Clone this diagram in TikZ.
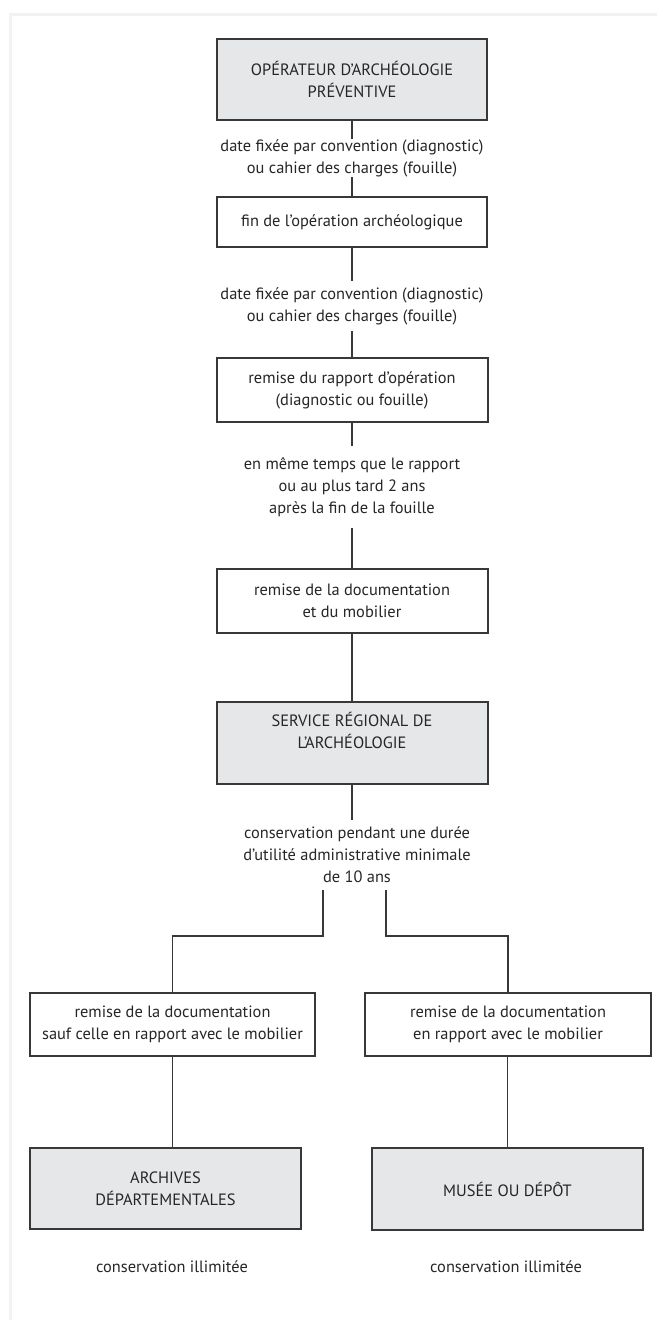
\documentclass[tikz,border=0pt]{standalone}
\usepackage{fontspec}
\setmainfont{PT Sans}
\usepackage{tikz}
\definecolor{fondgris}{HTML}{E6E7E8}
\definecolor{trait}{HTML}{383838}
\definecolor{encre}{HTML}{262626}
\tikzset{
etape/.style={shape=rectangle, draw=trait, line width=1pt, fill=white,
    align=center, inner sep=0pt, text=encre},
acteur/.style={etape, fill=fondgris},
delai/.style={align=center, inner sep=0pt, text=encre},
lien/.style={draw=trait, line width=0.9pt}}

\begin{document}
\begin{tikzpicture}[x=0.5pt, y=-0.5pt, font=\fontsize{8.2}{11}\selectfont]

                \useasboundingbox (0,0) rectangle (657,1320);
                \draw[black!5, line width=1.5pt] (10,1320) -- (10,15) -- (657,15);

                \node[acteur, minimum width=135.4pt, minimum height=40.5pt] (A) at (352,79.5) {OPÉRATEUR D’ARCHÉOLOGIE\\PRÉVENTIVE};
                \node[delai] (t1) at (352,158) {date fixée par convention (diagnostic)\\ou cahier des charges (fouille)};
                \node[etape, minimum width=135.4pt, minimum height=25pt] (B) at (352,222) {fin de l’opération archéologique};
                \node[delai, inner ysep=3pt] (t2) at (352,306) {date fixée par convention (diagnostic)\\ou cahier des charges (fouille)};
                \node[etape, minimum width=135.5pt, minimum height=32pt] (C) at (352,390) {remise du rapport d’opération\\(diagnostic ou fouille)};
                \node[delai, inner ysep=5.5pt] (t3) at (352,487) {en même temps que le rapport\\ou au plus tard 2 ans\\après la fin de la fouille};
                \node[etape, minimum width=135.5pt, minimum height=32pt] (D) at (352,601) {remise de la documentation\\et du mobilier};
                \node[acteur, minimum width=135.5pt, minimum height=41pt, text depth=13pt] (E) at (352,743) {SERVICE RÉGIONAL DE\\L’ARCHÉOLOGIE};
                \node[delai, inner ysep=3.5pt] (t4) at (357,855) {conservation pendant une durée\\d’utilité administrative minimale\\de 10 ans};
                \coordinate (kl) at (322.6,936);
                \coordinate (kr) at (386.3,936);
                \node[etape, minimum width=142.3pt, minimum height=31.4pt] (F) at (172.5,1024.7) {remise de la documentation\\sauf celle en rapport avec le mobilier};
                \node[etape, minimum width=142.6pt, minimum height=31.4pt] (G) at (508,1024.7) {remise de la documentation\\en rapport avec le mobilier};
                \node[acteur, minimum width=135.3pt, minimum height=40.8pt] (H) at (165.5,1188.5) {ARCHIVES\\DÉPARTEMENTALES};
                \node[acteur, minimum width=135.5pt, minimum height=40.8pt] (I) at (507.5,1189) {MUSÉE OU DÉPÔT};
                \node[delai] (t5) at (172,1267) {conservation illimitée};
                \node[delai] (t6) at (506,1267) {conservation illimitée};

                \draw[lien] (A.south) -- (t1.north);
                \draw[lien] (t1.south) -- (B.north);
                \draw[lien] (B.south) -- (t2.north);
                \draw[lien] (t2.south) -- (C.north);
                \draw[lien] (C.south) -- (t3.north);
                \draw[lien] (t3.south) -- (D.north);
                \draw[lien] (D.south) -- (E.north);
                \draw[lien] (E.south) -- (E.south |- t4.north);
                \draw[lien] (t4.south -| kl) -- (kl) -| (F.north);
                \draw[lien] (t4.south -| kr) -- (kr) -| (G.north);
                \draw[lien] (F.south) -- (F.south |- H.north);
                \draw[lien] (I.north |- G.south) -- (I.north);

\end{tikzpicture}
\end{document}
